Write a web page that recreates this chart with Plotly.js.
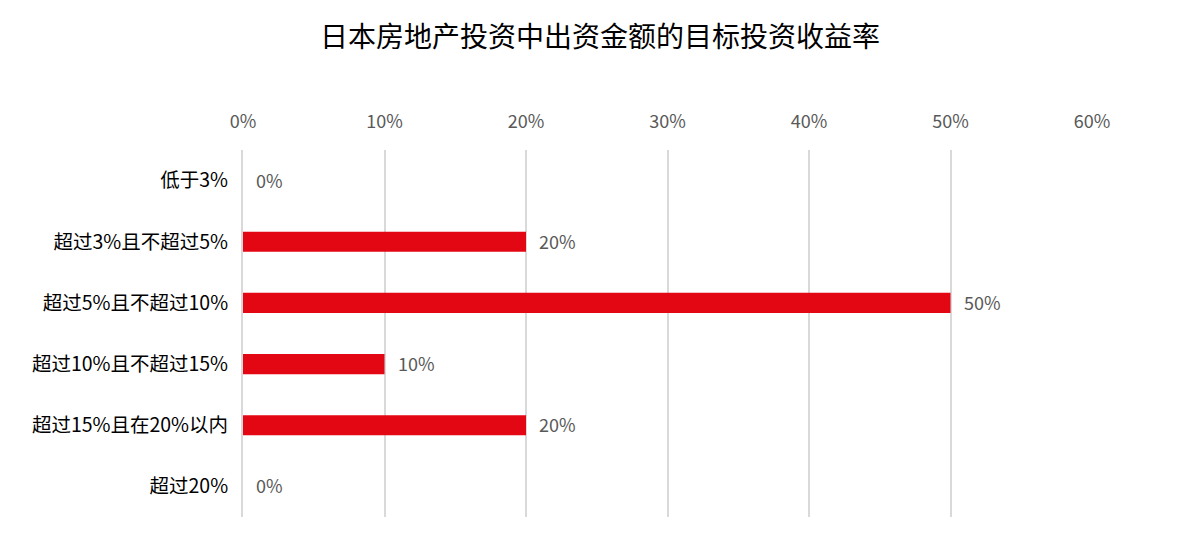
<!DOCTYPE html>
<html>
<head>
<meta charset="utf-8">
<script src="https://cdn.plot.ly/plotly-3.0.1.min.js"></script>
<style>
  html, body { margin: 0; padding: 0; background: #ffffff; }
  #chart { width: 1200px; height: 544px; }
</style>
</head>
<body>
<div id="chart"></div>
<script>
// Target return brackets, top to bottom as shown
const CATEGORIES = [
  "低于3%",
  "超过3%且不超过5%",
  "超过5%且不超过10%",
  "超过10%且不超过15%",
  "超过15%且在20%以内",
  "超过20%",
];
const SHARE = [0, 0.2, 0.5, 0.1, 0.2, 0];
const X_TICKS = [0, 0.1, 0.2, 0.3, 0.4, 0.5, 0.6];

const BAR_COLOR = "#e30613";
const LABEL_COLOR = "#595959";
const GRID_COLOR = "#d9d9d9";
const FONT_FAMILY = "'Noto Sans CJK SC', 'Noto Sans', sans-serif";

const pct = (v) => Math.round(v * 100) + "%";

const data = [{
  type: "bar",
  orientation: "h",
  y: CATEGORIES,
  x: SHARE,
  width: 0.33,
  marker: { color: BAR_COLOR },
  hoverinfo: "skip",
}];

// value labels sit a little to the right of each bar end
const annotations = CATEGORIES.map((cat, i) => ({
  x: SHARE[i],
  y: cat,
  xref: "x",
  yref: "y",
  text: pct(SHARE[i]),
  showarrow: false,
  xanchor: "left",
  xshift: 11,
  yshift: 1,
  font: { family: FONT_FAMILY, size: 18, color: LABEL_COLOR },
}));

const layout = {
  width: 1200,
  height: 544,
  paper_bgcolor: "#ffffff",
  plot_bgcolor: "#ffffff",
  font: { family: FONT_FAMILY, color: "#000000" },
  margin: { l: 243, r: 108, t: 150, b: 27 },
  showlegend: false,
  annotations,
  title: {
    text: "日本房地产投资中出资金额的目标投资收益率",
    font: { family: FONT_FAMILY, size: 28, color: "#000000" },
    x: 0.5,
    xref: "container",
    y: 1 - 37 / 544,
    yref: "container",
    xanchor: "center",
    yanchor: "middle",
  },
  xaxis: {
    side: "top",
    range: [0, 0.6],
    tickvals: X_TICKS,
    ticktext: X_TICKS.map(pct),
    tickfont: { family: FONT_FAMILY, size: 18, color: LABEL_COLOR },
    ticklabelstandoff: 17,
    showgrid: true,
    gridcolor: GRID_COLOR,
    gridwidth: 2,
    zeroline: false,
    showline: false,
    fixedrange: true,
  },
  yaxis: {
    type: "category",
    autorange: "reversed",
    tickfont: { family: FONT_FAMILY, size: 19.5, color: "#000000" },
    ticklabelstandoff: 9,
    showgrid: false,
    zeroline: false,
    showline: true,
    linecolor: GRID_COLOR,
    linewidth: 2,
    fixedrange: true,
  },
};

Plotly.newPlot("chart", data, layout, { displayModeBar: false, staticPlot: true });
</script>
</body>
</html>
